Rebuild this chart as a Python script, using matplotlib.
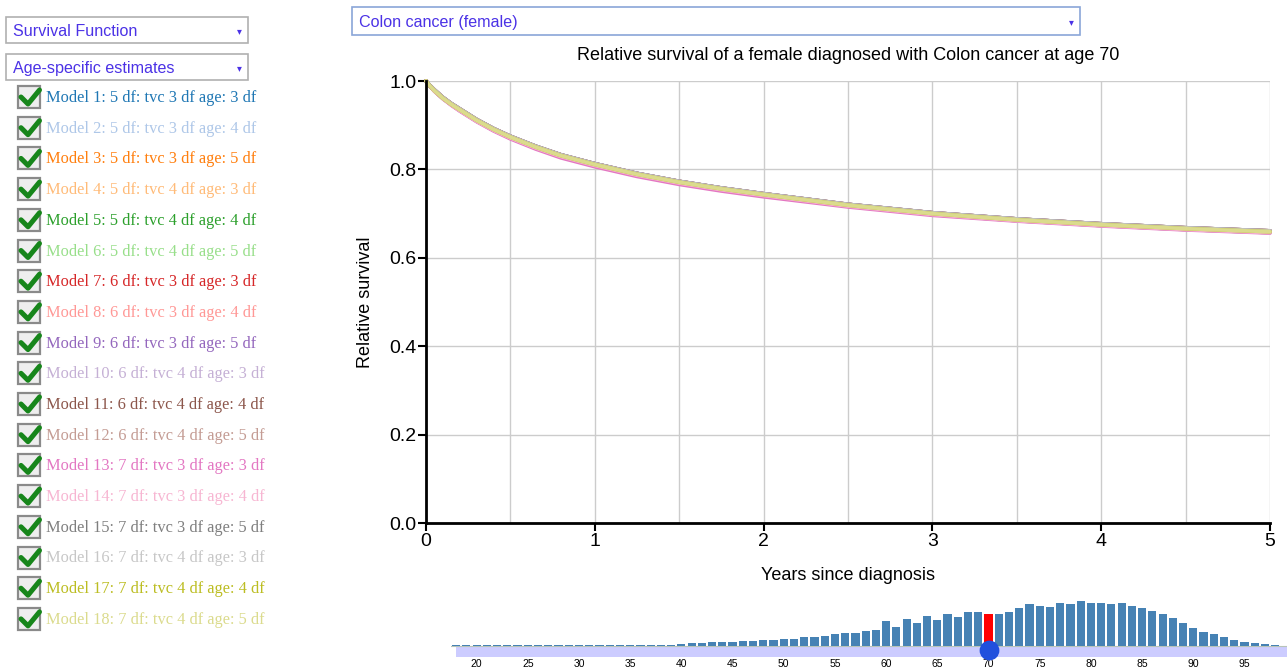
import matplotlib
matplotlib.use("Agg")
import matplotlib.pyplot as plt
from matplotlib.patches import Rectangle
from matplotlib.lines import Line2D

# ---------------- data ----------------
years = [0, 0.02, 0.05, 0.1, 0.15, 0.2, 0.3, 0.4, 0.5, 0.65, 0.8, 1,
         1.25, 1.5, 1.75, 2, 2.5, 3, 3.5, 4, 4.5, 5]

model_labels = [
    "Model 1: 5 df: tvc 3 df age: 3 df",
    "Model 2: 5 df: tvc 3 df age: 4 df",
    "Model 3: 5 df: tvc 3 df age: 5 df",
    "Model 4: 5 df: tvc 4 df age: 3 df",
    "Model 5: 5 df: tvc 4 df age: 4 df",
    "Model 6: 5 df: tvc 4 df age: 5 df",
    "Model 7: 6 df: tvc 3 df age: 3 df",
    "Model 8: 6 df: tvc 3 df age: 4 df",
    "Model 9: 6 df: tvc 3 df age: 5 df",
    "Model 10: 6 df: tvc 4 df age: 3 df",
    "Model 11: 6 df: tvc 4 df age: 4 df",
    "Model 12: 6 df: tvc 4 df age: 5 df",
    "Model 13: 7 df: tvc 3 df age: 3 df",
    "Model 14: 7 df: tvc 3 df age: 4 df",
    "Model 15: 7 df: tvc 3 df age: 5 df",
    "Model 16: 7 df: tvc 4 df age: 3 df",
    "Model 17: 7 df: tvc 4 df age: 4 df",
    "Model 18: 7 df: tvc 4 df age: 5 df",
]

model_colors = ["#1f77b4", "#aec7e8", "#ff7f0e", "#ffbb78", "#2ca02c", "#98df8a",
                "#d62728", "#ff9896", "#9467bd", "#c5b0d5", "#8c564b", "#c49c94",
                "#e377c2", "#f7b6d2", "#7f7f7f", "#c7c7c7", "#bcbd22", "#dbdb8d"]

# relative survival estimates (models overlap closely)
survival_upper = [1.000, 0.991, 0.980, 0.963, 0.949, 0.937, 0.913, 0.8925, 0.875, 0.8525,
                  0.833, 0.813, 0.791, 0.773, 0.758, 0.745, 0.721, 0.702, 0.688, 0.677, 0.668, 0.661]
survival_mid = [1.000, 0.990, 0.978, 0.961, 0.947, 0.935, 0.911, 0.8905, 0.873, 0.8505,
                0.831, 0.811, 0.789, 0.771, 0.756, 0.743, 0.719, 0.700, 0.686, 0.675, 0.666, 0.659]
survival_lower = [1.000, 0.990, 0.977, 0.960, 0.946, 0.933, 0.909, 0.8885, 0.871, 0.8485,
                  0.829, 0.809, 0.787, 0.769, 0.754, 0.741, 0.717, 0.698, 0.684, 0.673, 0.664, 0.657]
survival_m13 = [1.000, 0.990, 0.977, 0.960, 0.945, 0.932, 0.908, 0.887, 0.869, 0.846,
                0.826, 0.806, 0.784, 0.766, 0.751, 0.738, 0.715, 0.696, 0.683, 0.672, 0.663, 0.656]

survival_series = [survival_upper, survival_mid, survival_mid, survival_upper, survival_mid,
                   survival_mid, survival_upper, survival_mid, survival_lower, survival_upper,
                   survival_mid, survival_lower, survival_m13, survival_lower, survival_upper,
                   survival_upper, survival_mid, survival_mid]

ages = list(range(18, 100))
age_counts = [0.8, 0.8, 0.8, 0.8, 0.8, 0.8, 0.8,            # 18-24
              1.0, 1.0, 1.0, 1.0, 1.0,                      # 25-29
              1.0, 1.0, 1.0, 1.0, 1.0, 1.3, 1.3, 1.3, 1.3, 1.3,  # 30-39
              2.3, 2.7, 3.0, 3.7, 4.0, 3.7, 4.7, 5.3, 6.0, 6.3,  # 40-49
              7.3, 7.3, 9.0, 9.0, 10.0, 11.7, 13.0, 13.0, 14.7, 16.3,  # 50-59
              25.0, 19.3, 27.0, 23.3, 29.7, 26.3, 31.7, 29.3, 33.7, 34.3,  # 60-69
              31.7, 31.7, 34.0, 38.0, 42.3, 39.7, 39.3, 43.0, 42.3, 45.0,  # 70-79
              43.3, 43.3, 42.3, 43.0, 40.3, 38.0, 35.0, 32.0, 27.7, 22.7,  # 80-89
              18.3, 14.3, 11.7, 8.7, 6.0, 4.3, 2.7, 2.0, 0.8, 0.5]         # 90-99
selected_age = 70
age_ticks = list(range(20, 100, 5))

title = "Relative survival of a female diagnosed with Colon cancer at age 70"
x_label = "Years since diagnosis"
y_label = "Relative survival"
dropdown1 = "Survival Function"
dropdown2 = "Age-specific estimates"
dropdown3 = "Colon cancer (female)"

# ---------------- figure ----------------
W, H = 1287, 669
fig = plt.figure(figsize=(W / 100, H / 100), dpi=100)
fig.patch.set_facecolor("white")

def fx(px):
    return px / W

def fy(py):
    return 1 - py / H

# UI overlay in pixel coordinates
ui = fig.add_axes([0, 0, 1, 1], zorder=0)
ui.set_xlim(0, W)
ui.set_ylim(H, 0)
ui.axis("off")

sans = "Liberation Sans"
serif = "Liberation Serif"
ui_blue = "#4b32e6"

def dropdown(x0, y0, x1, y1, text, edge):
    ui.add_patch(Rectangle((x0, y0), x1 - x0, y1 - y0, facecolor="white",
                           edgecolor=edge, linewidth=1.2))
    ui.text(x0 + 7, (y0 + y1) / 2 + 1, text, color=ui_blue, fontsize=11.6,
            family=sans, va="center", ha="left")
    ui.text(x1 - 9, (y0 + y1) / 2 + 1, "▾", color=ui_blue, fontsize=7,
            family="DejaVu Sans", va="center", ha="center")

dropdown(6, 17, 248, 43, dropdown1, "#b0b0b0")
dropdown(6, 54, 248, 80, dropdown2, "#b0b0b0")
dropdown(352, 7, 1080, 35, dropdown3, "#8aa6d8")

# legend with checkboxes
for i, (lab, col) in enumerate(zip(model_labels, model_colors)):
    cy = 97 + i * 30.7
    ui.add_patch(Rectangle((18, cy - 11), 22, 22, facecolor="#eeeeee",
                           edgecolor="#8a8a8a", linewidth=1.6))
    ui.add_line(Line2D([21, 28, 39.5], [cy, cy + 7, cy - 7], color="#17861b",
                       linewidth=3.6, solid_capstyle="round", solid_joinstyle="round"))
    ui.text(46, cy + 1, lab, color=col, fontsize=11.8, family=serif,
            va="center", ha="left")

# ---------------- main chart ----------------
ax = fig.add_axes([fx(426), fy(523), fx(1270) - fx(426), fy(81) - fy(523)], zorder=2)
ax.patch.set_alpha(0)
for s, c in zip(survival_series, model_colors):
    ax.plot(years, s, color=c, linewidth=2.6, solid_capstyle="round",
            solid_joinstyle="round", clip_on=False)

ax.set_xlim(0, 5)
ax.set_ylim(0, 1)
ax.set_xticks([0, 1, 2, 3, 4, 5])
ax.set_xticks([0.5, 1.5, 2.5, 3.5, 4.5], minor=True)
ax.set_yticks([0.0, 0.2, 0.4, 0.6, 0.8, 1.0])
ax.set_yticklabels(["0.0", "0.2", "0.4", "0.6", "0.8", "1.0"])
ax.grid(True, which="both", axis="x", color="#cccccc", linewidth=1)
ax.grid(True, which="major", axis="y", color="#cccccc", linewidth=1)
ax.set_axisbelow(True)
ax.tick_params(which="minor", length=0)
ax.tick_params(which="major", length=6, width=1.5, color="black",
               labelsize=14, pad=1)
for lbl in ax.get_xticklabels() + ax.get_yticklabels():
    lbl.set_family(sans)
for side in ("top", "right"):
    ax.spines[side].set_visible(False)
for side in ("left", "bottom"):
    ax.spines[side].set_linewidth(2)
    ax.spines[side].set_color("black")

fig.text(fx(848), fy(56), title, ha="center", va="center", fontsize=13, family=sans)
fig.text(fx(848), fy(576), x_label, ha="center", va="center", fontsize=13, family=sans)
fig.text(fx(365), fy(302), y_label, ha="center", va="center", fontsize=13,
         family=sans, rotation=90)

# ---------------- age histogram ----------------
ah = fig.add_axes([fx(451), fy(657), 1 - fx(451), fy(600) - fy(657)], zorder=2)
ah.patch.set_alpha(0)
ah.set_xlim(17.5, 99.15)
ah.set_ylim(-11, 46)
bar_colors = ["#ff0000" if a == selected_age else "#4682b4" for a in ages]
ah.bar(ages, age_counts, width=0.8, color=bar_colors, zorder=3)
ah.add_patch(Rectangle((17.95, -11), 99.15 - 17.95, 10.6, facecolor="#ccccff",
                       edgecolor="none", zorder=1))
ah.axhline(0, color="#b8c4b8", linewidth=0.8, zorder=2)
ah.scatter([selected_age], [-4], s=175, color="#2150dd", zorder=4, clip_on=False)
ah.set_xticks(age_ticks)
ah.set_xticklabels([str(a) for a in age_ticks])
ah.tick_params(axis="x", length=0, labelsize=7.5, pad=1.5)
ah.set_yticks([])
for lbl in ah.get_xticklabels():
    lbl.set_family(sans)
for sp in ah.spines.values():
    sp.set_visible(False)

fig.savefig("out.png", dpi=100)
